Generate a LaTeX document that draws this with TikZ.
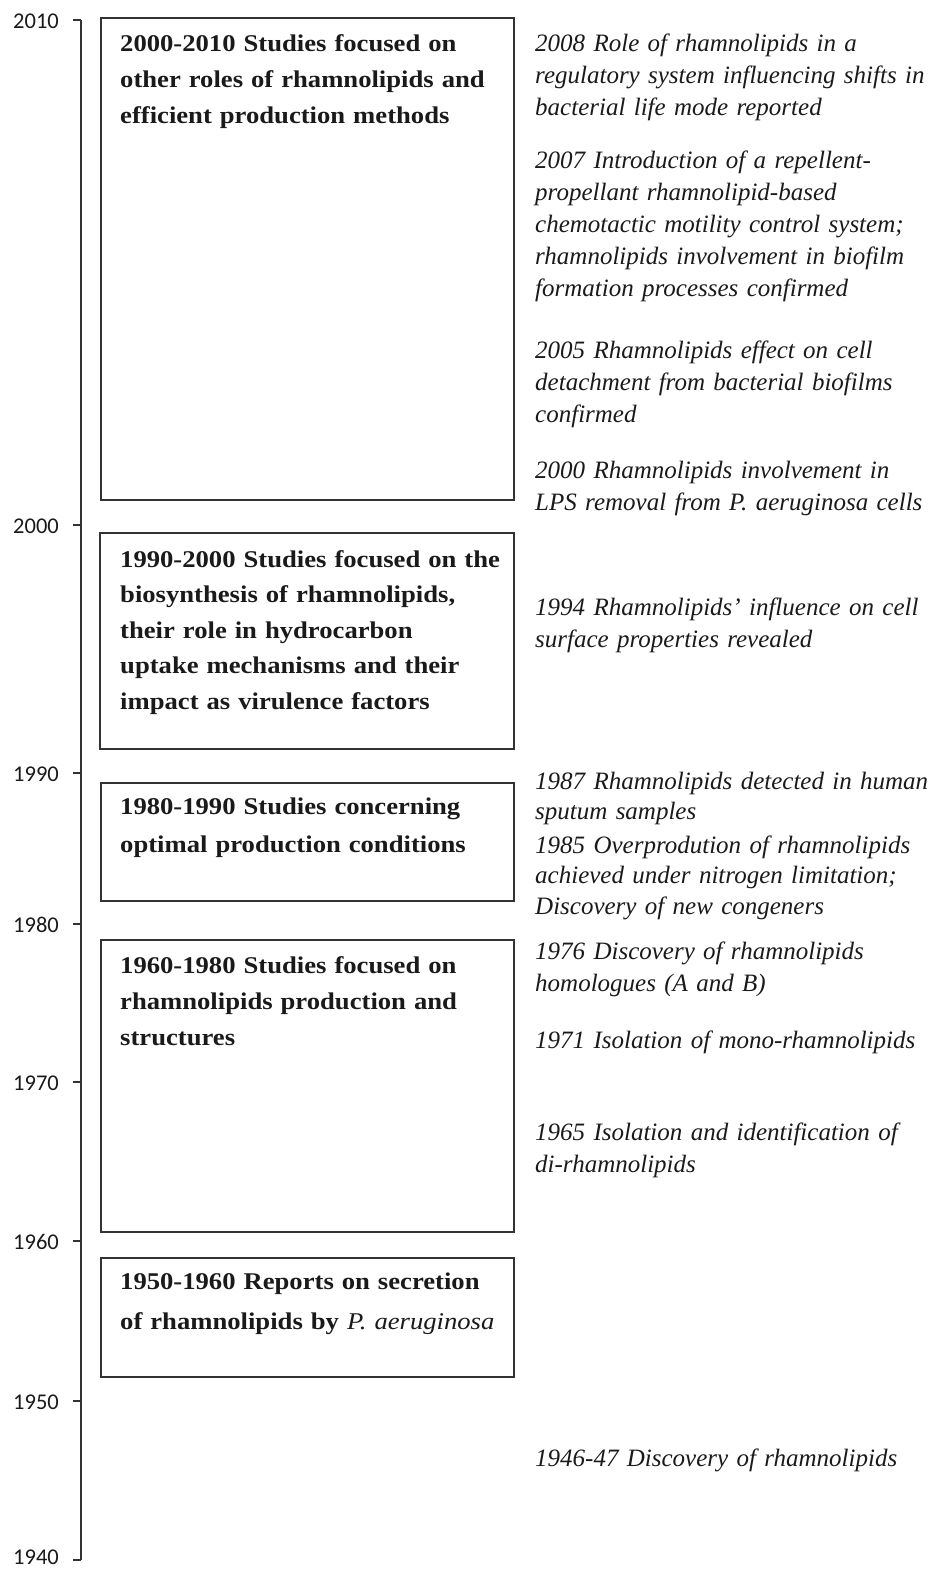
\documentclass[tikz,border=0pt]{standalone}
\usepackage{fontspec}
\newfontfamily\boxfont[FakeStretch=1.11]{Liberation Serif}
\newfontfamily\evfont{Liberation Serif}
\newfontfamily\tickfont{Carlito}
\definecolor{linegray}{HTML}{333333}
\definecolor{txt}{HTML}{1A1A1A}
\begin{document}
\begin{tikzpicture}[x=1pt,y=-1pt,
  axisline/.style={draw=linegray,line width=2pt},
  period/.style={draw=linegray,line width=2pt,anchor=north west,inner sep=0pt,outer sep=0pt},
  boxtext/.style={anchor=base west,inner sep=0pt,align=left,text width=392pt,text=txt,
    font=\boxfont\bfseries\fontsize{24}{36}\selectfont},
  event/.style={anchor=base west,inner sep=0pt,align=left,text width=400pt,text=txt,
    font=\evfont\itshape\fontsize{25}{32}\selectfont},
  tightevent/.style={event,font=\evfont\itshape\fontsize{25}{30.5}\selectfont},
  yearlab/.style={anchor=east,inner sep=0pt,text=txt,font=\tickfont\fontsize{22.5}{22.5}\selectfont}]
\useasboundingbox (0,0) rectangle (936,1569);
% axis
\coordinate (axtop) at (81,20);
\coordinate (axbot) at (81,1560);
\draw[axisline] (axtop) -- (axbot);
\foreach \yr/\yy/\ly in {2010/20/21,2000/525/526,1990/773/774,1980/924/925,1970/1082/1083,1960/1241/1242,1950/1401/1402,1940/1560/1557}{
  \draw[axisline] (73,\yy) -- (81,\yy);
  \node[yearlab] (y\yr) at (59,\ly) {\yr};
}
% period boxes
\node[period,minimum width=413pt,minimum height=482pt] (b1) at (101,18) {};
\node[period,minimum width=414pt,minimum height=216pt] (b2) at (100,533) {};
\node[period,minimum width=413pt,minimum height=118pt] (b3) at (101,783) {};
\node[period,minimum width=413pt,minimum height=292pt] (b4) at (101,940) {};
\node[period,minimum width=413pt,minimum height=119pt] (b5) at (101,1258) {};
% box texts
\node[boxtext] (t1) at (120,51) {2000-2010 Studies focused on\\other roles of rhamnolipids and\\efficient production methods};
\node[boxtext,font=\boxfont\bfseries\fontsize{24}{35.5}\selectfont] (t2) at (120,567) {1990-2000 Studies focused on the\\biosynthesis of rhamnolipids,\\their role in hydrocarbon\\uptake mechanisms and their\\impact as virulence factors};
\node[boxtext,font=\boxfont\bfseries\fontsize{24}{38}\selectfont] (t3) at (120,814) {1980-1990 Studies concerning\\optimal production conditions};
\node[boxtext] (t4) at (120,973) {1960-1980 Studies focused on\\rhamnolipids production and\\structures};
\node[boxtext,font=\boxfont\bfseries\fontsize{24}{40}\selectfont] (t5) at (120,1289) {1950-1960 Reports on secretion\\of rhamnolipids by {\mdseries\itshape P. aeruginosa}};
% events
\node[event] (e2008) at (535,51) {2008 Role of rhamnolipids in a\\regulatory system influencing shifts in\\bacterial life mode reported};
\node[event] (e2007) at (535,168) {2007 Introduction of a repellent-\\propellant rhamnolipid-based\\chemotactic motility control system;\\rhamnolipids involvement in biofilm\\formation processes confirmed};
\node[event] (e2005) at (535,358) {2005 Rhamnolipids effect on cell\\detachment from bacterial biofilms\\confirmed};
\node[event] (e2000) at (535,478) {2000 Rhamnolipids involvement in\\LPS removal from P. aeruginosa cells};
\node[event] (e1994) at (535,615) {1994 Rhamnolipids’ influence on cell\\surface properties revealed};
\node[tightevent] (e1987) at (535,789) {1987 Rhamnolipids detected in human\\sputum samples};
\node[tightevent] (e1985) at (535,853) {1985 Overprodution of rhamnolipids\\achieved under nitrogen limitation;\\Discovery of new congeners};
\node[event] (e1976) at (535,959) {1976 Discovery of rhamnolipids\\homologues (A and B)};
\node[event] (e1971) at (535,1048) {1971 Isolation of mono-rhamnolipids};
\node[event] (e1965) at (535,1140) {1965 Isolation and identification of\\di-rhamnolipids};
\node[event] (e1946) at (535,1466) {1946-47 Discovery of rhamnolipids};
\end{tikzpicture}
\end{document}
